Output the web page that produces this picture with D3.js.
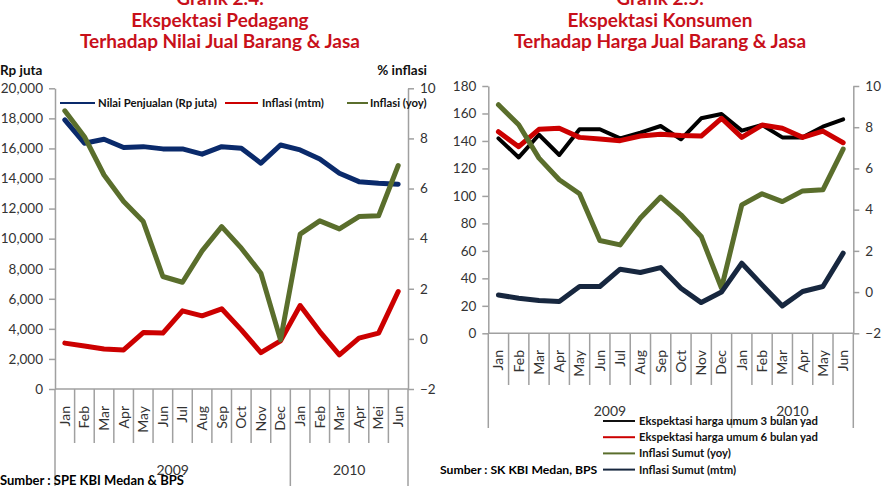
<!DOCTYPE html>
<html>
<head>
<meta charset="utf-8">
<script src="https://cdn.jsdelivr.net/npm/d3@7"></script>
<style>
  html, body { margin: 0; padding: 0; background: #fff; }
  svg { display: block; font-family: Lato, "Open Sans", sans-serif; }
</style>
</head>
<body>
<svg id="chart" width="883" height="486"></svg>
<script>
// ---------- DATA ----------
const monthsLeft  = ["Jan","Feb","Mar","Apr","May","Jun","Jul","Aug","Sep","Oct","Nov","Dec","Jan","Feb","Mar","Apr","Mei","Jun"];
const monthsRight = ["Jan","Feb","Mar","Apr","May","Jun","Jul","Aug","Sep","Oct","Nov","Dec","Jan","Feb","Mar","Apr","May","Jun"];
const years = ["2009", "2010"];
const yearMonthCounts = [12, 6];

// Grafik 2.4 (left)
const nilaiPenjualan = [17900, 16350, 16610, 16060, 16120, 15970, 15970, 15620, 16120, 16010, 15020, 16230, 15900, 15300, 14350, 13790, 13690, 13620];
const inflasiMtmL    = [-0.17, -0.28, -0.40, -0.44, 0.25, 0.23, 1.12, 0.92, 1.20, 0.36, -0.55, -0.08, 1.33, 0.29, -0.64, 0.03, 0.23, 1.89];
const inflasiYoyL    = [9.10, 8.07, 6.54, 5.48, 4.68, 2.49, 2.26, 3.51, 4.48, 3.62, 2.62, -0.04, 4.18, 4.71, 4.39, 4.88, 4.91, 6.92];

// Grafik 2.5 (right)
const ekspektasi3 = [141.9, 128.0, 144.5, 129.8, 148.5, 148.5, 141.9, 146.0, 150.9, 141.2, 156.5, 159.6, 147.5, 151.6, 142.6, 142.6, 150.4, 155.7];
const ekspektasi6 = [146.7, 135.8, 148.5, 149.2, 142.6, 141.4, 140.2, 143.6, 144.8, 144.0, 143.6, 156.5, 142.6, 151.6, 149.2, 142.6, 147.2, 138.7];
const inflasiYoyR = [9.09, 8.12, 6.50, 5.45, 4.77, 2.50, 2.29, 3.59, 4.61, 3.75, 2.70, 0.19, 4.23, 4.77, 4.39, 4.91, 4.96, 6.94];
const inflasiMtmR = [-0.14, -0.30, -0.41, -0.46, 0.27, 0.27, 1.11, 0.95, 1.19, 0.19, -0.51, 0.00, 1.40, 0.35, -0.67, 0.03, 0.27, 1.89];

// Tick values
const ticksLeftL  = [0, 2000, 4000, 6000, 8000, 10000, 12000, 14000, 16000, 18000, 20000];
const ticksLeftR  = [-2, 0, 2, 4, 6, 8, 10];
const ticksRightL = [0, 20, 40, 60, 80, 100, 120, 140, 160, 180];
const ticksRightR = [-2, 0, 2, 4, 6, 8, 10];

// ---------- STYLE ----------
const AXIS = "#a0a0a0";
const TXT = "#333";
const TITLE_RED = "#c8101a";
const NAVY_L = "#0a2a6b";
const NAVY_R = "#17273f";
const RED = "#cc0000";
const GREEN = "#5a6e2c";
const BLACK = "#000";

const svg = d3.select("#chart");

function drawChart(cfg) {
  const g = svg.append("g");
  const idx = d3.range(cfg.months.length);
  const x = d3.scaleBand().domain(idx).range([cfg.x0, cfg.x1]).padding(0);
  const cx = i => x(i) + x.bandwidth() / 2;
  const yL = d3.scaleLinear().domain(cfg.leftDomain).range([cfg.yBottom, cfg.yTop]);
  const yR = d3.scaleLinear().domain(cfg.rightDomain).range([cfg.yBottom, cfg.yTop]);

  // titles
  cfg.titles.forEach((t, k) => {
    g.append("text").attr("x", cfg.titleX).attr("y", cfg.titleY + k * 21.5)
      .attr("text-anchor", "middle").attr("font-weight", "bold")
      .attr("font-size", 19).attr("fill", TITLE_RED).text(t);
  });

  // axes
  const axL = g.append("g").attr("transform", `translate(${cfg.x0},0)`)
    .call(d3.axisLeft(yL).tickValues(cfg.ticksL).tickSizeInner(6).tickSizeOuter(0).tickPadding(6)
      .tickFormat(cfg.fmtL));
  const axR = g.append("g").attr("transform", `translate(${cfg.x1},0)`)
    .call(d3.axisRight(yR).tickValues(cfg.ticksR).tickSizeInner(6).tickSizeOuter(0).tickPadding(6)
      .tickFormat(d3.format("d")));
  [axL, axR].forEach(a => {
    a.select(".domain").attr("stroke", AXIS).attr("stroke-width", 1.5);
    a.selectAll(".tick line").attr("stroke", AXIS).attr("stroke-width", 1.5);
    a.selectAll(".tick text").attr("fill", TXT).attr("font-size", 13.5).attr("font-family", "Lato, sans-serif");
  });

  // x axis line
  g.append("line").attr("x1", cfg.x0).attr("x2", cfg.x1)
    .attr("y1", cfg.yBottom).attr("y2", cfg.yBottom)
    .attr("stroke", AXIS).attr("stroke-width", 1.5);

  // month dividers
  const bounds = d3.range(cfg.months.length + 1).map(i => i < cfg.months.length ? x(i) : cfg.x1);
  g.selectAll(null).data(bounds).join("line")
    .attr("x1", d => d).attr("x2", d => d)
    .attr("y1", cfg.yBottom).attr("y2", cfg.divBottom)
    .attr("stroke", AXIS).attr("stroke-width", 1.5);

  // year dividers
  let acc = 0;
  const yearBounds = [cfg.x0];
  const yearCenters = [];
  yearMonthCounts.forEach(c => {
    const start = x(acc);
    acc += c;
    const end = acc < cfg.months.length ? x(acc) : cfg.x1;
    yearBounds.push(end);
    yearCenters.push((start + end) / 2);
  });
  g.selectAll(null).data(yearBounds).join("line")
    .attr("x1", d => d).attr("x2", d => d)
    .attr("y1", cfg.divBottom).attr("y2", cfg.yearBottom)
    .attr("stroke", AXIS).attr("stroke-width", 1.5);
  g.selectAll(null).data(years).join("text")
    .attr("x", (d, i) => yearCenters[i]).attr("y", cfg.yearY)
    .attr("text-anchor", "middle").attr("font-size", 14).attr("fill", TXT).text(d => d);

  // month labels
  g.selectAll(null).data(cfg.months).join("text")
    .attr("transform", (d, i) => `translate(${cx(i)},${cfg.labelTop}) rotate(-90)`)
    .attr("text-anchor", "end").attr("dy", "0.35em")
    .attr("font-size", 14).attr("fill", TXT).text(d => d);

  // series
  cfg.series.forEach(s => {
    const sc = s.axis === "L" ? yL : yR;
    const line = d3.line().x((d, i) => cx(i)).y(d => sc(d));
    g.append("path").datum(s.values).attr("d", line)
      .attr("fill", "none").attr("stroke", s.color).attr("stroke-width", s.width)
      .attr("stroke-linejoin", "round").attr("stroke-linecap", "round");
  });

  return g;
}

// ---------- LEFT CHART ----------
const gl = drawChart({
  months: monthsLeft, x0: 55, x1: 408, yTop: 88.3, yBottom: 389,
  leftDomain: [0, 20000], rightDomain: [-2, 10],
  ticksL: ticksLeftL, ticksR: ticksLeftR, fmtL: d3.format(","),
  divBottom: 443, yearBottom: 486, yearY: 475, labelTop: 406,
  titleX: 220, titleY: 5, titles: ["Grafik 2.4.", "Ekspektasi Pedagang", "Terhadap Nilai Jual Barang & Jasa"],
  series: [
    { values: nilaiPenjualan, axis: "L", color: NAVY_L, width: 5 },
    { values: inflasiMtmL, axis: "R", color: RED, width: 5 },
    { values: inflasiYoyL, axis: "R", color: GREEN, width: 5 }
  ]
});
gl.append("text").attr("x", 0).attr("y", 75).attr("font-weight", "bold").attr("font-size", 13.5).attr("fill", "#111").text("Rp juta");
gl.append("text").attr("x", 427).attr("y", 75).attr("text-anchor", "end").attr("font-weight", "bold").attr("font-size", 13.5).attr("fill", "#111").text("% inflasi");

const legL = [
  { name: "Nilai Penjualan (Rp juta)", color: NAVY_L, x1: 60, x2: 95, tx: 98 },
  { name: "Inflasi (mtm)", color: RED, x1: 225, x2: 258, tx: 262 },
  { name: "Inflasi (yoy)", color: GREEN, x1: 347, x2: 368, tx: 370 }
];
legL.forEach(l => {
  gl.append("line").attr("x1", l.x1).attr("x2", l.x2).attr("y1", 103).attr("y2", 103).attr("stroke", l.color).attr("stroke-width", 2);
  gl.append("text").attr("x", l.tx).attr("y", 107).attr("font-size", 11.3).attr("font-weight", "bold").attr("fill", "#111").text(l.name);
});
gl.append("text").attr("x", 0).attr("y", 485).attr("font-size", 13).attr("font-weight", "bold").attr("fill", "#000").text("Sumber : SPE KBI Medan & BPS");

// ---------- RIGHT CHART ----------
const gr = drawChart({
  months: monthsRight, x0: 488.3, x1: 853.3, yTop: 86, yBottom: 333.3,
  leftDomain: [0, 180], rightDomain: [-2, 10],
  ticksL: ticksRightL, ticksR: ticksRightR, fmtL: d3.format("d"),
  divBottom: 385, yearBottom: 428, yearY: 416, labelTop: 350,
  titleX: 660, titleY: 5, titles: ["Grafik 2.5.", "Ekspektasi Konsumen", "Terhadap Harga Jual Barang & Jasa"],
  series: [
    { values: ekspektasi3, axis: "L", color: BLACK, width: 4 },
    { values: ekspektasi6, axis: "L", color: RED, width: 5 },
    { values: inflasiYoyR, axis: "R", color: GREEN, width: 5 },
    { values: inflasiMtmR, axis: "R", color: NAVY_R, width: 5 }
  ]
});
const legR = [
  { name: "Ekspektasi harga umum 3 bulan yad", color: "#111" },
  { name: "Ekspektasi harga umum 6 bulan yad", color: RED },
  { name: "Inflasi Sumut (yoy)", color: GREEN },
  { name: "Inflasi Sumut (mtm)", color: NAVY_R }
];
legR.forEach((l, k) => {
  const yy = 421 + k * 16.2;
  gr.append("line").attr("x1", 603).attr("x2", 635).attr("y1", yy).attr("y2", yy).attr("stroke", l.color).attr("stroke-width", 2);
  gr.append("text").attr("x", 639).attr("y", yy + 4).attr("font-size", 11.3).attr("font-weight", "bold").attr("fill", "#111").text(l.name);
});
gr.append("text").attr("x", 440).attr("y", 474).attr("font-size", 12.2).attr("font-weight", "bold").attr("fill", "#000").text("Sumber : SK KBI Medan, BPS");
</script>
</body>
</html>
